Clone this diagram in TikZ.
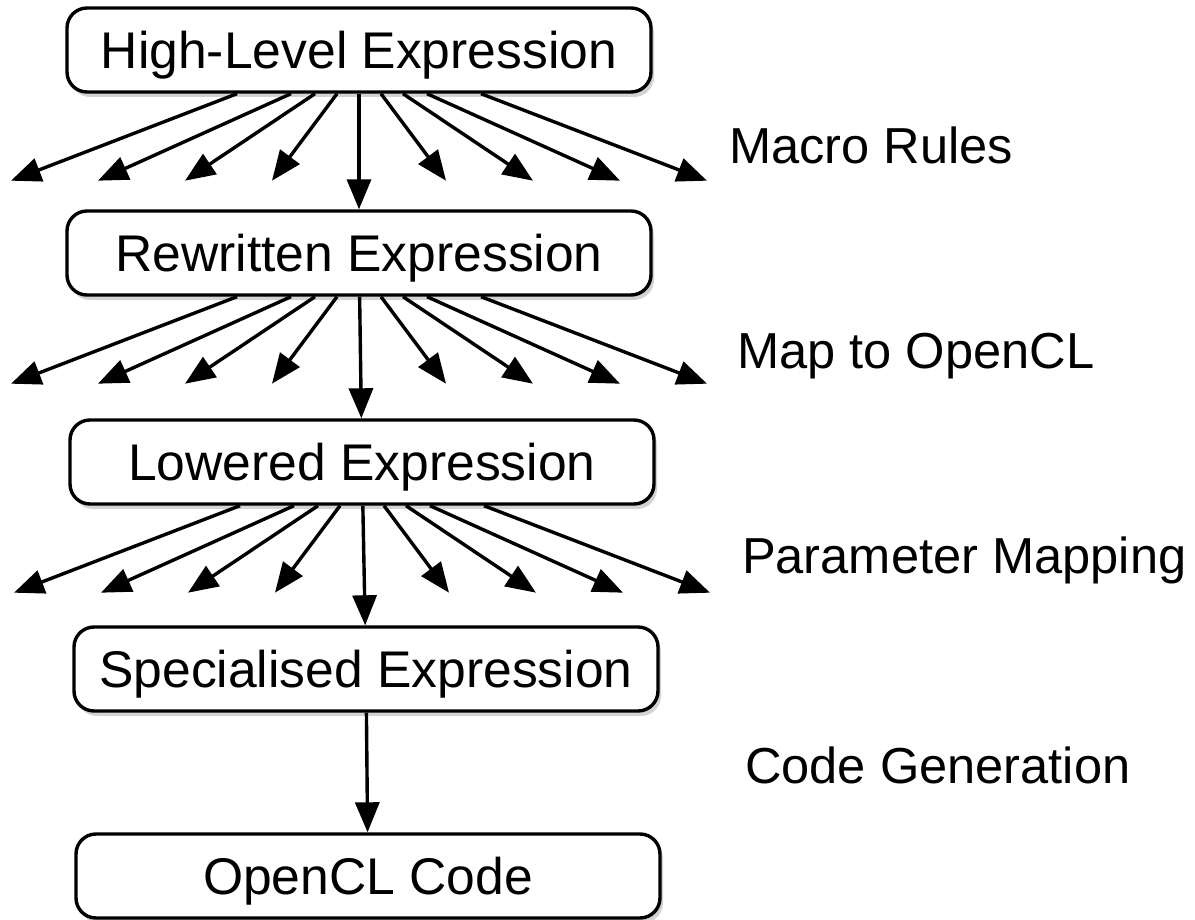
\documentclass[tikz,border=0pt]{standalone}
\usepackage{fontspec}
\setmainfont{Liberation Sans}
\usetikzlibrary{positioning,arrows.meta,calc,shadows}

\tikzset{
  stage/.style={draw, line width=1.7pt, rounded corners=10pt, fill=white,
    minimum width=292pt, minimum height=42pt, inner sep=0pt,
    text depth=0pt,
    font=\fontsize{25.8}{30}\selectfont,
    drop shadow={shadow xshift=1.5pt, shadow yshift=-2.5pt, opacity=0.35}},
  flow/.style={line width=1.7pt, -{Triangle[length=15pt,width=12pt]}},
  phase/.style={anchor=base west, font=\fontsize{25.3}{30}\selectfont}
}

\begin{document}
\begin{tikzpicture}[x=0.5pt, y=-0.5pt]
\useasboundingbox (0,0) rectangle (1195,920);

% pipeline stages
\node[stage] (high) at (359,50)  {High-Level Expression};
\node[stage] (rewr) at (359,253) {Rewritten Expression};
\node[stage] (lowr) at (362,462) {Lowered Expression};
\node[stage] (spec) at (366,669) {Specialised Expression};
\node[stage] (code) at (368,876) {OpenCL Code};

% phase labels
\node[phase] (macro) at (722,163) {Macro Rules};
\node[phase] (mapcl) at (730,368) {Map to OpenCL};
\node[phase] (param) at (735,573) {Parameter Mapping};
\node[phase] (cgen)  at (738,783) {Code Generation};

% fan of alternatives below each stage
\foreach \from/\to in {high/rewr, rewr/lowr, lowr/spec}{
  \foreach \s/\t [count=\i] in {-122/-348, -68/-261, -44/-174, -22/-87,
                               22/87, 44/174, 68/261, 122/348}{
    \coordinate (\from-tip\i) at ($(\from.south)+(\t,87)$);
    \draw[flow] ($(\from.south)+(\s,0)$) -- (\from-tip\i);
  }
  \draw[flow] (\from) -- (\to);
}
\draw[flow] (spec) -- (code);
\end{tikzpicture}
\end{document}
